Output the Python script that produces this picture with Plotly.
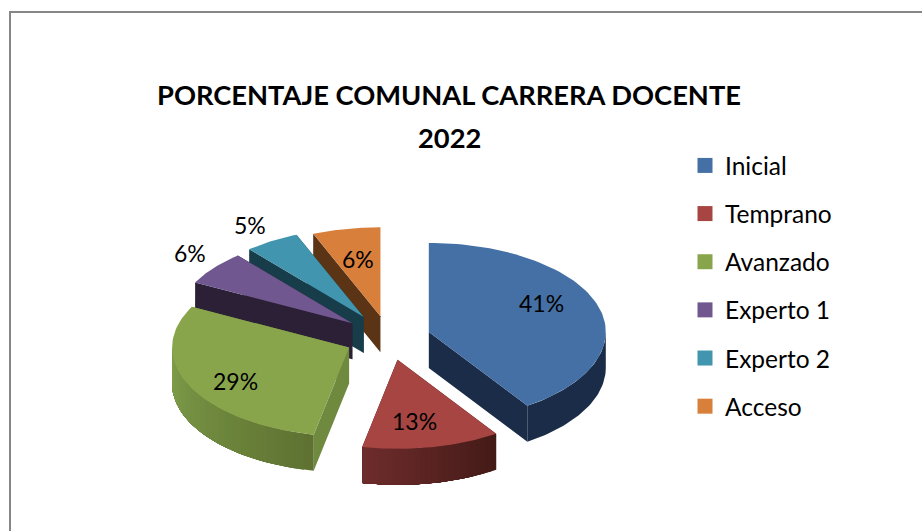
import math
import plotly.graph_objects as go

# ---- data ----
categories = ["Inicial", "Temprano", "Avanzado", "Experto 1", "Experto 2", "Acceso"]
values = [40.6, 12.6, 29.4, 6.2, 5.0, 6.2]
title_main = "PORCENTAJE COMUNAL CARRERA DOCENTE"
title_year = "2022"

# ---- style ----
top_colors = ["#4570a5", "#a64542", "#88a54c", "#71578f", "#4195ae", "#d87f3c"]
face_colors = ["#1a2c47", "#43191a", "#6f8a3f", "#2b2035", "#173c4a", "#5a3415"]
wall_left = ["#1a2c47", "#6e2c2c", "#80a04b", "#2b2035", "#173c4a", "#5a3415"]
wall_right = ["#1a2c47", "#431a17", "#5e7131", "#2b2035", "#173c4a", "#5a3415"]
explode = [0.235, 0.25, 0.25, 0.265, 0.275, 0.25]
label_pos = [(541, 303), (414, 421), (235, 381), (190, 253), (250, 225), (358, 259)]
CX, CY, RX, RY, DEPTH = 389.0, 338.0, 177.0, 89.0, 36.0
W, H = 922, 531


def lerp_hex(a, b, t):
    ca = [int(a[i:i + 2], 16) for i in (1, 3, 5)]
    cb = [int(b[i:i + 2], 16) for i in (1, 3, 5)]
    return "#" + "".join(f"{round(p + (q - p) * t):02x}" for p, q in zip(ca, cb))


def rim(ax, ay, deg, dy=0.0):
    r = math.radians(deg)
    return ax + RX * math.sin(r), ay - RY * math.cos(r) + dy


def poly(xs, ys, color):
    return go.Scatter(x=xs, y=ys, mode="lines", fill="toself", fillcolor=color,
                      line=dict(color=color, width=0), hoverinfo="skip", showlegend=False)


def wall(ax, ay, d0, d1, color, n=40):
    degs = [d0 + (d1 - d0) * k / n for k in range(n + 1)]
    upper = [rim(ax, ay, d) for d in degs]
    lower = [rim(ax, ay, d, DEPTH) for d in reversed(degs)]
    pts = upper + lower + upper[:1]
    return poly([p[0] for p in pts], [p[1] for p in pts], color)


total = sum(values)
traces = []
start = 0.0
bounds = []
for v in values:
    bounds.append((start, start + v / total * 360))
    start += v / total * 360

for i in [5, 4, 3, 2, 1, 0]:
    a0, a1 = bounds[i]
    mid = math.radians((a0 + a1) / 2)
    ax = CX + explode[i] * RX * math.sin(mid)
    ay = CY - explode[i] * RY * math.cos(mid)
    # cut faces
    for edge in (a1, a0):
        ex, ey = rim(ax, ay, edge)
        traces.append(poly([ax, ex, ex, ax, ax], [ay, ey, ey + DEPTH, ay + DEPTH, ay], face_colors[i]))
    # outer wall: front half of the rim; each band overpaints the rest so no seams show
    w0, w1 = max(a0, 90.0), min(a1, 270.0)
    if w1 > w0:
        bands = 1 if wall_left[i] == wall_right[i] else 24
        for k in range(bands):
            d0 = w0 + (w1 - w0) * k / bands
            t = 1 - (k + 0.5) / bands
            traces.append(wall(ax, ay, d0, w1, lerp_hex(wall_left[i], wall_right[i], t)))
    # top surface
    degs = [a0 + (a1 - a0) * k / 80 for k in range(81)]
    pts = [rim(ax, ay, d) for d in degs]
    traces.append(poly([ax] + [p[0] for p in pts] + [ax], [ay] + [p[1] for p in pts] + [ay], top_colors[i]))

# legend entries
for name, col in zip(categories, top_colors):
    traces.append(go.Scatter(x=[None], y=[None], mode="markers", name=name, legendgroup=name,
                             marker=dict(symbol="square", size=15, color=col)))

fig = go.Figure(traces)
annotations = [dict(x=x, y=y, xref="x", yref="y", showarrow=False,
                    text=f"{v:.0f}%", font=dict(family="Lato", size=23, color="#000000"))
               for (x, y), v in zip(label_pos, values)]
annotations.append(dict(x=449, y=137, xref="x", yref="y", showarrow=False,
                        text=f"<b>{title_year}</b>", font=dict(family="Lato", size=27.3, color="#000000")))
fig.update_layout(
    width=W, height=H, margin=dict(l=0, r=0, t=0, b=0),
    paper_bgcolor="white", plot_bgcolor="white",
    font=dict(family="Lato", color="#000000"),
    title=dict(text=f"<b>{title_main}</b>",
               x=449 / W, xanchor="center", y=1 - 95 / H, yanchor="middle",
               font=dict(family="Lato", size=27.3, color="#000000")),
    xaxis=dict(range=[0, W], visible=False, fixedrange=True),
    yaxis=dict(range=[H, 0], visible=False, fixedrange=True),
    legend=dict(x=685 / W, xanchor="left", y=1 - 143 / H, yanchor="top",
                tracegroupgap=13.3, font=dict(family="Lato", size=24.5, color="#000000"),
                bgcolor="rgba(0,0,0,0)"),
    annotations=annotations,
    shapes=[dict(type="rect", xref="x", yref="y", x0=10, y0=12, x1=W + 20, y1=H + 20,
                 line=dict(color="#868686", width=2), fillcolor="rgba(0,0,0,0)")],
)
fig.write_html("out.html", config=dict(displayModeBar=False),
               post_script="document.body.style.margin='0';document.body.style.overflow='hidden';")
